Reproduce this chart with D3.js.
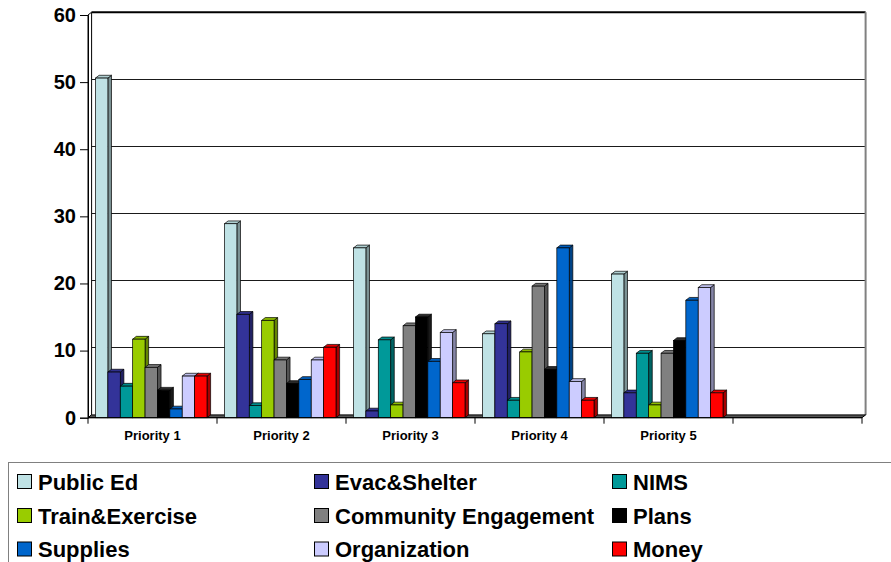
<!DOCTYPE html>
<html>
<head>
<meta charset="utf-8">
<script src="https://cdn.jsdelivr.net/npm/d3@7"></script>
<style>
  html, body { margin: 0; padding: 0; background: #fff; }
  svg { display: block; }
  text { font-family: "Liberation Sans", Arial, sans-serif; font-weight: bold; fill: #000; }
</style>
</head>
<body>
<svg id="chart" width="891" height="562"></svg>
<script>
// Categories (the sixth slot is an empty category on the axis)
const categories = ["Priority 1", "Priority 2", "Priority 3", "Priority 4", "Priority 5", ""];
const seriesNames = ["Public Ed", "Evac&Shelter", "NIMS", "Train&Exercise", "Community Engagement",
                     "Plans", "Supplies", "Organization", "Money"];
const seriesColors = ["#BFE2E5", "#333399", "#009999", "#99CC00", "#808080",
                      "#000000", "#0066CC", "#CCCCFF", "#FF0000"];

// Values per series, one entry per priority
const publicEd      = [50.6, 28.9, 25.3, 12.5, 21.4];
const evacShelter   = [6.8, 15.4, 1.0, 14.0, 3.7];
const nims          = [4.7, 1.8, 11.6, 2.6, 9.6];
const trainExercise = [11.7, 14.5, 1.9, 9.8, 1.9];
const community     = [7.5, 8.6, 13.7, 19.6, 9.6];
const plans         = [4.1, 5.1, 15.0, 7.2, 11.5];
const supplies      = [1.3, 5.7, 8.4, 25.3, 17.5];
const organization  = [6.2, 8.6, 12.7, 5.4, 19.4];
const money         = [6.2, 10.5, 5.2, 2.6, 3.7];

const yTicks = [0, 10, 20, 30, 40, 50, 60];

const seriesValues = [publicEd, evacShelter, nims, trainExercise, community,
                      plans, supplies, organization, money];

const svg = d3.select("#chart");

// 3D depth offset of the back plane relative to the front plane
const DX = 3.6, DY = -2.8;

const x0 = d3.scaleBand().domain(categories).range([88, 862]).padding(0);
const x1 = d3.scaleBand().domain(seriesNames).range([7.5, x0.bandwidth() - 10]).padding(0);
const y = d3.scaleLinear().domain([0, 60]).range([417.7, 15]);

const plot = svg.append("g");

// back wall
plot.append("rect")
  .attr("x", 88 + DX).attr("y", y(60) + DY)
  .attr("width", 862 - 88).attr("height", y(0) - y(60))
  .attr("fill", "#fff");

// gridlines on the back wall
plot.append("g").selectAll("line")
  .data(yTicks.filter(d => d > 0 && d < 60))
  .join("line")
  .attr("x1", 88 + DX).attr("x2", 862 + DX)
  .attr("y1", d => y(d) + DY).attr("y2", d => y(d) + DY)
  .attr("stroke", "#1a1a1a").attr("stroke-width", 1).attr("shape-rendering", "crispEdges");

// top edge and right edge of the back wall
plot.append("line")
  .attr("x1", 88 + DX).attr("x2", 862 + DX)
  .attr("y1", y(60) + DY).attr("y2", y(60) + DY)
  .attr("stroke", "#000").attr("stroke-width", 2);
plot.append("line")
  .attr("x1", 862 + DX).attr("x2", 862 + DX)
  .attr("y1", y(60) + DY).attr("y2", y(0) + DY)
  .attr("stroke", "#808080").attr("stroke-width", 2);

// left wall edges
plot.append("path")
  .attr("d", `M88,${y(0)} L88,${y(60)} L${88 + DX},${y(60) + DY} L${88 + DX},${y(0) + DY} Z`)
  .attr("fill", "#fff").attr("stroke", "#000").attr("stroke-width", 1);

// floor
plot.append("path")
  .attr("d", `M88,${y(0)} L862,${y(0)} L${862 + DX},${y(0) + DY} L${88 + DX},${y(0) + DY} Z`)
  .attr("fill", "#555").attr("stroke", "#000").attr("stroke-width", 1);

// bars: side, top, front for each series in each category, left to right
const barData = [];
categories.forEach((cat, ci) => {
  if (ci >= publicEd.length) return;
  seriesNames.forEach((s, si) => {
    barData.push({ cat, series: s, color: seriesColors[si], value: seriesValues[si][ci] });
  });
});

const bars = plot.append("g").selectAll("g.bar")
  .data(barData)
  .join("g").attr("class", "bar");

bars.each(function (d) {
  const g = d3.select(this);
  const xl = x0(d.cat) + x1(d.series);
  const w = x1.bandwidth();
  const yt = y(d.value), yb = y(0);
  const base = d3.color(d.color);
  const side = d.color === "#000000" ? "#1a1a1a" : base.darker(1.2).formatHex();
  const top = d.color === "#000000" ? "#2a2a2a" : base.darker(0.25).formatHex();
  g.append("path")
    .attr("d", `M${xl + w},${yb} L${xl + w},${yt} L${xl + w + DX},${yt + DY} L${xl + w + DX},${yb + DY} Z`)
    .attr("fill", side).attr("stroke", "#000").attr("stroke-width", 0.7);
  g.append("path")
    .attr("d", `M${xl},${yt} L${xl + w},${yt} L${xl + w + DX},${yt + DY} L${xl + DX},${yt + DY} Z`)
    .attr("fill", top).attr("stroke", "#000").attr("stroke-width", 0.7);
  g.append("rect")
    .attr("x", xl).attr("y", yt).attr("width", w).attr("height", yb - yt)
    .attr("fill", d.color).attr("stroke", "#000").attr("stroke-width", 0.7);
});

// value axis (front plane)
const yAxis = d3.axisLeft(y).tickValues(yTicks).tickSize(8).tickPadding(4).tickFormat(d3.format("d"));
const ya = svg.append("g").attr("transform", "translate(88,0)").call(yAxis);
ya.select(".domain").attr("stroke", "#000");
ya.selectAll(".tick line").attr("stroke", "#000");
ya.selectAll(".tick text")
  .attr("font-size", 20).attr("font-family", "'Liberation Sans', Arial, sans-serif")
  .attr("font-weight", "bold").attr("fill", "#000");

// category axis with ticks at category boundaries
const xa = svg.append("g").attr("transform", `translate(0,${y(0)})`);
xa.append("line").attr("x1", 88).attr("x2", 862).attr("y1", 0).attr("y2", 0).attr("stroke", "#000");
const edges = categories.map(c => x0(c)).concat([x0.range()[1]]);
xa.selectAll("line.tick").data(edges).join("line").attr("class", "tick")
  .attr("x1", d => d).attr("x2", d => d).attr("y1", 0).attr("y2", 6)
  .attr("stroke", "#000");
xa.selectAll("text").data(categories).join("text")
  .attr("x", d => x0(d) + x0.bandwidth() / 2).attr("y", 22)
  .attr("text-anchor", "middle").attr("font-size", 13)
  .text(d => d);

// legend
const legend = svg.append("g");
legend.append("rect")
  .attr("x", 8.5).attr("y", 462.5).attr("width", 900).attr("height", 200)
  .attr("fill", "#fff").attr("stroke", "#808080").attr("stroke-width", 1);
const colX = [17, 314, 612];
const rowY = [474, 508, 541.5];
const items = legend.selectAll("g.item").data(seriesNames).join("g").attr("class", "item")
  .attr("transform", (d, i) => `translate(${colX[i % 3]},${rowY[Math.floor(i / 3)]})`);
items.append("rect")
  .attr("width", 14).attr("height", 14).attr("x", 0.5).attr("y", 0.5)
  .attr("fill", (d, i) => seriesColors[i]).attr("stroke", "#000").attr("stroke-width", 1);
items.append("text")
  .attr("x", 21).attr("y", 15.5).attr("font-size", 22)
  .text(d => d);
</script>
</body>
</html>
